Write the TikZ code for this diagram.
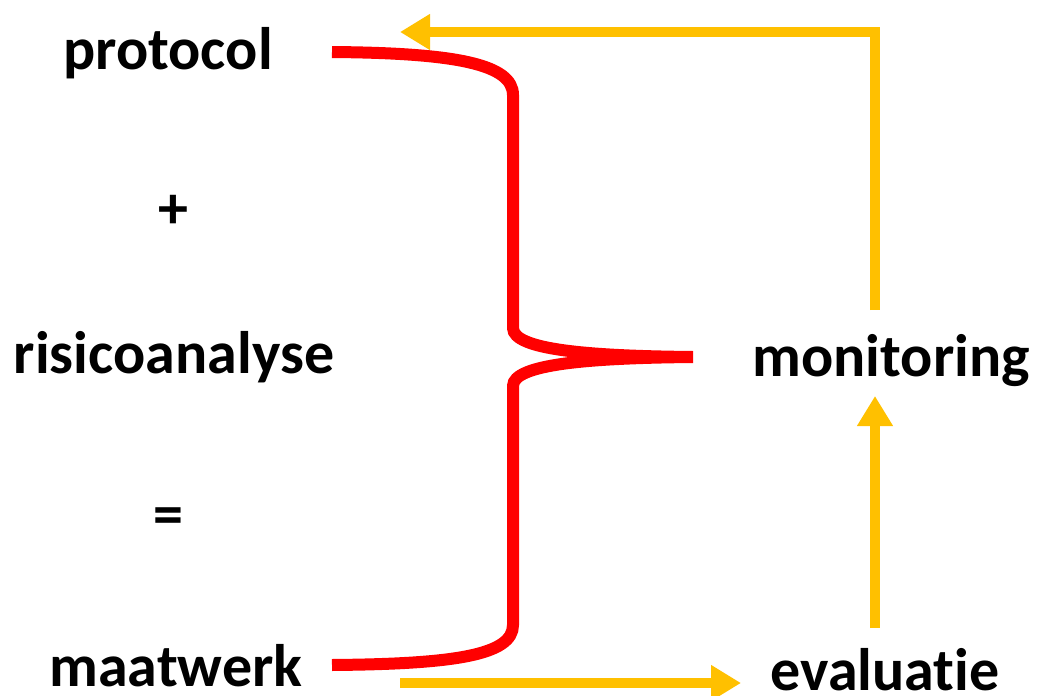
\documentclass[tikz,border=0pt]{standalone}
\usepackage{fontspec}
\setmainfont[Ligatures=NoCommon]{Carlito}
\usetikzlibrary{arrows.meta, positioning}

\definecolor{bracered}{RGB}{255,0,0}
\definecolor{flowgold}{RGB}{255,192,0}

\begin{document}
\begin{tikzpicture}[x=1pt, y=-1pt,
        word/.style={inner sep=0pt, anchor=base, font=\fontsize{60}{72}\selectfont\bfseries},
        brace/.style={draw=bracered, line width=12pt},
        flow/.style={draw=flowgold, line width=10pt, -{Triangle[length=30pt, width=34pt]}}]

    \useasboundingbox (0,0) rectangle (1037,696);

    \node (protocol) [word] at (168,69) {protocol};
    \node (plus) [word] at (173,228) {+};
    \node (risico) [word] at (174,373) {risicoanalyse};
    \node (is) [word] at (168,534) {=};
    \node (maatwerk) [word] at (176,686) {maatwerk};
    \node (monitoring) [word] at (891,376) {monitoring};
    \node (evaluatie) [word] at (885,690) {evaluatie};

    % brace points
    \coordinate (btop) at (332,52);
    \coordinate (bbot) at (332,665);
    \coordinate (btip) at (693,357);

    \draw [brace] (btop) .. controls (455,53) and (513,64) .. (513,95)
        -- (513,328) .. controls (513,350) and (590,356) .. (btip)
        .. controls (590,358) and (513,364) .. (513,386)
        -- (513,625) .. controls (513,655) and (455,664) .. (bbot);

    % feedback loop
    \coordinate (monup) at (875,310);
    \coordinate (mondown) at (875,396);
    \coordinate (evalup) at (875,628);
    \coordinate (back) at (400,32);
    \coordinate (maatout) at (400,683);
    \coordinate (evalin) at (741,683);

    \draw [flow] (monup) |- (back);
    \draw [flow] (evalup) -- (mondown);
    \draw [flow] (maatout) -- (evalin);
\end{tikzpicture}
\end{document}
